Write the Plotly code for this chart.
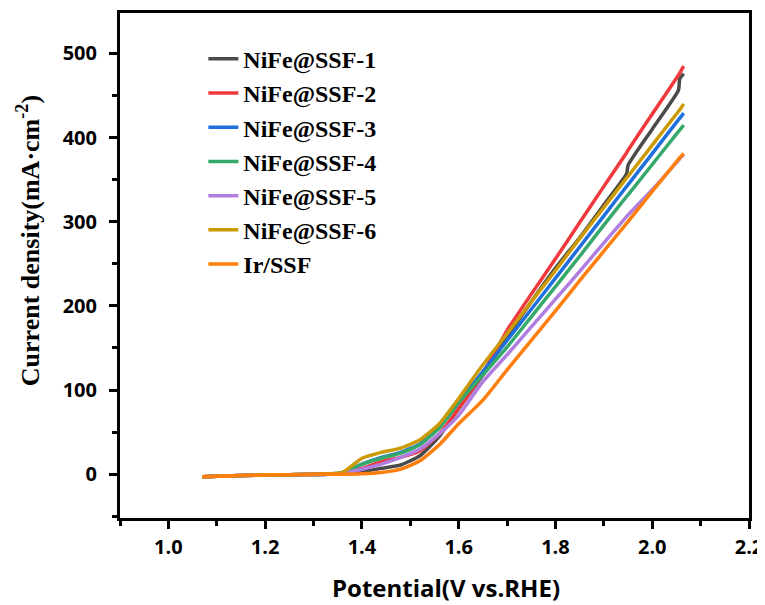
import plotly.graph_objects as go

potential = [1.07, 1.15, 1.25, 1.33, 1.36, 1.40, 1.44, 1.48, 1.52, 1.56, 1.60, 1.65,
             1.70, 1.75, 1.80, 1.85, 1.90, 1.947, 1.950, 2.00, 2.054, 2.057, 2.065]

nife1 = [-3, -1.5, -0.5, 0, 0.5, 3, 7, 11, 22, 45, 78, 118,
         163, 205, 245, 281, 320, 357, 367, 410, 456, 470, 476]
nife2 = [-3, -1.5, -0.5, 0, 1, 7, 15, 20, 28, 48, 78, 120,
         171, 214, 256, 299, 342, 382, 385, 428, 474, 477, 485]
nife3 = [-3, -1.5, -0.5, 0, 2, 12, 20, 26, 36, 56, 86, 122,
         159, 196, 233, 270, 307, 342, 344, 381, 421, 423, 429]
nife4 = [-3, -1.5, -0.5, 0, 2, 12, 19, 25, 35, 55, 85, 118,
         151, 187, 223, 259, 296, 330, 332, 368, 407, 409, 415]
nife5 = [-3, -1.5, -0.5, 0, 1, 6, 12, 20, 30, 48, 70, 110,
         142, 175, 208, 241, 275, 306, 308, 338, 373, 375, 380]
nife6 = [-3, -1.5, -0.5, 0.5, 2, 19, 26, 31, 41, 60, 90, 130,
         167, 205, 242, 280, 317, 352, 354, 391, 431, 433, 440]
ir_ssf = [-3, -1.5, -0.5, 0, 0, 0.5, 2, 6, 16, 35, 60, 88,
          124, 159, 194, 230, 265, 298, 300, 336, 374, 376, 381]

series_names = ["NiFe@SSF-1", "NiFe@SSF-2", "NiFe@SSF-3", "NiFe@SSF-4",
                "NiFe@SSF-5", "NiFe@SSF-6", "Ir/SSF"]
series_values = [nife1, nife2, nife3, nife4, nife5, nife6, ir_ssf]
colors = ["#4a4a4a", "#f0393c", "#1f6fdc", "#35a86b", "#b07ee0", "#cc9a06", "#ff7f0e"]

fig = go.Figure()
for i, (name, vals, col) in enumerate(zip(series_names, series_values, colors)):
    fig.add_trace(go.Scatter(
        x=potential, y=vals, mode="lines", name=name,
        line=dict(color=col, width=3.5, shape="spline", smoothing=0.5),
        legendgroup=f"g{i}",
    ))

axis_common = dict(
    showline=True, linecolor="black", linewidth=3, mirror=True,
    ticks="outside", ticklen=8, tickwidth=2.5, tickcolor="black",
    showgrid=False, zeroline=False, automargin=False,
    tickfont=dict(family="Open Sans", size=20, color="black", weight="bold"),
)

fig.update_xaxes(
    range=[0.9, 2.2], dtick=0.2, tick0=1.0, tickformat=".1f",
    minor=dict(dtick=0.1, ticks="outside", ticklen=5, tickwidth=2.5, tickcolor="black"),
    ticklabelstandoff=1,
    **axis_common,
)
fig.update_yaxes(
    range=[-52, 548], dtick=100, tick0=0,
    minor=dict(dtick=50, ticks="outside", ticklen=5, tickwidth=2.5, tickcolor="black"),
    ticklabelstandoff=8,
    **axis_common,
)

# axis titles placed as annotations to match the reference positions
fig.add_annotation(
    text="Potential(V vs.RHE)",
    xref="paper", yref="paper", x=0.518, y=-0.138,
    xanchor="center", yanchor="middle", showarrow=False,
    font=dict(family="Open Sans", size=24, color="black", weight="bold"),
)
fig.add_annotation(
    text="Current density(mA·cm<sup>-2</sup>)",
    xref="paper", yref="paper", x=-0.146, y=0.5485,
    xanchor="center", yanchor="middle", textangle=-90, showarrow=False,
    font=dict(family="Liberation Serif", size=26, color="black", weight="bold"),
)

# page body adds an 8px offset, so the figure is sized/margined to compensate
fig.update_layout(
    width=757, height=597,
    margin=dict(l=112, r=16, t=5, b=87),
    plot_bgcolor="white", paper_bgcolor="white",
    legend=dict(
        x=0.1325, y=0.953, xanchor="left", yanchor="top",
        font=dict(family="Liberation Serif", size=24, color="black", weight="bold"),
        bgcolor="rgba(0,0,0,0)", tracegroupgap=0,
    ),
)

fig.write_html("out.html")
